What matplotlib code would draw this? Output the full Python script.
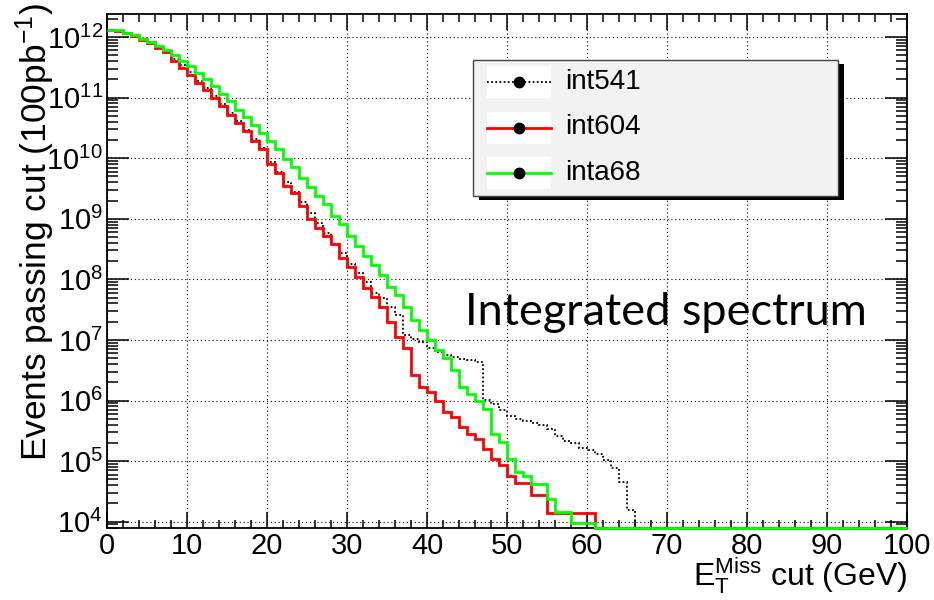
import numpy as np
import matplotlib
matplotlib.use('Agg')
import matplotlib.pyplot as plt
from matplotlib.patches import Rectangle
from matplotlib.lines import Line2D
from matplotlib.ticker import LogLocator, MultipleLocator, NullFormatter

plt.rcParams['font.family'] = ['Liberation Sans', 'DejaVu Sans']
plt.rcParams['mathtext.fontset'] = 'custom'
plt.rcParams['mathtext.rm'] = 'Liberation Sans'
plt.rcParams['mathtext.it'] = 'Liberation Sans:italic'
plt.rcParams['mathtext.bf'] = 'Liberation Sans:bold'

# 1 GeV bins from 0 to 100
bin_edges = np.arange(0, 101, 1)

# log10(events passing cut) per bin; bins after the list are empty
int541_log = [12.11, 12.10, 12.07, 12.03, 11.97, 11.91, 11.84, 11.77, 11.64, 11.53,
              11.42, 11.28, 11.16, 11.03, 10.89, 10.75, 10.61, 10.47, 10.31, 10.17,
              9.94, 9.77, 9.61, 9.44, 9.28, 9.09, 8.93, 8.76, 8.59, 8.43,
              8.26, 8.10, 7.96, 7.77, 7.69, 7.55, 7.41, 7.08, 7.02, 6.97,
              6.86, 6.80, 6.75, 6.72, 6.69, 6.67, 6.64, 6.01, 5.95, 5.84,
              5.75, 5.70, 5.66, 5.63, 5.59, 5.53, 5.42, 5.34, 5.30, 5.22,
              5.18, 5.11, 5.02, 4.89, 4.66, 4.20]
int604_log = [12.11, 12.10, 12.07, 12.02, 11.955, 11.90, 11.82, 11.75, 11.60, 11.49,
              11.38, 11.24, 11.13, 11.00, 10.86, 10.72, 10.58, 10.445, 10.29, 10.15,
              9.90, 9.76, 9.54, 9.43, 9.21, 8.99, 8.855, 8.72, 8.58, 8.36,
              8.21, 8.04, 7.86, 7.71, 7.55, 7.30, 7.05, 6.86, 6.42, 6.23,
              6.14, 6.00, 5.81, 5.72, 5.56, 5.45, 5.37, 5.20, 5.04, 4.93,
              4.76, 4.64, 4.64, 4.44, 4.44, 4.15, 4.15, 4.15, 4.15, 4.15,
              4.15]
inta68_log = [12.11, 12.11, 12.07, 12.03, 11.97, 11.92, 11.86, 11.79, 11.70, 11.61,
              11.52, 11.41, 11.31, 11.19, 11.06, 10.94, 10.80, 10.675, 10.54, 10.41,
              10.28, 10.15, 9.98, 9.85, 9.68, 9.52, 9.38, 9.24, 9.05, 8.91,
              8.72, 8.55, 8.39, 8.23, 8.07, 7.88, 7.74, 7.55, 7.33, 7.16,
              7.00, 6.83, 6.70, 6.51, 6.22, 6.10, 6.00, 5.86, 5.45, 5.31,
              5.04, 4.82, 4.76, 4.62, 4.62, 4.38, 4.16, 4.16, 3.98, 3.98,
              3.98]

series_names = ['int541', 'int604', 'inta68']
series_logs = [int541_log, int604_log, inta68_log]
colors = ['black', '#ff0000', '#00ff00']
styles = [(0, (1, 1.3)), '-', '-']
widths = [1.3, 2.0, 2.0]

y_min, y_max = 10 ** 3.891, 10 ** 12.38

W, H = 934, 600


def fx(x):
    return x / W


def fy(y):
    return 1 - y / H


def fill_bins(logs):
    vals = np.full(len(bin_edges) - 1, y_min)
    vals[:len(logs)] = 10 ** np.array(logs)
    return vals


fig = plt.figure(figsize=(9.34, 6), dpi=100)
ax = fig.add_axes([fx(107), fy(528.3), 800 / W, (528.3 - 14) / H])

for name, logs, c, ls, lw in zip(series_names, series_logs, colors, styles, widths):
    ax.stairs(fill_bins(logs), bin_edges, color=c, linestyle=ls, linewidth=lw,
              baseline=None, clip_on=False, zorder=3)

ax.set_yscale('log')
ax.set_xlim(0, 100)
ax.set_ylim(y_min, y_max)

ax.xaxis.set_major_locator(MultipleLocator(10))
ax.xaxis.set_minor_locator(MultipleLocator(2))
ax.yaxis.set_major_locator(LogLocator(base=10, numticks=20))
ax.yaxis.set_minor_locator(LogLocator(base=10, subs=np.arange(2, 10), numticks=20))
ax.yaxis.set_minor_formatter(NullFormatter())

ax.tick_params(which='both', direction='in', top=True, right=True, width=1.1,
               labelsize=21, colors='black')
ax.tick_params(axis='x', which='major', length=11.5, pad=3)
ax.tick_params(axis='x', which='minor', length=5.8)
ax.tick_params(axis='y', which='major', length=16, pad=3)
ax.tick_params(axis='y', which='minor', length=8)

ax.grid(True, which='major', color='black', linestyle=(0, (1, 2.5)), linewidth=0.8)
for s in ax.spines.values():
    s.set_linewidth(1.3)

fig.text(fx(35), fy(3), 'Events passing cut (100pb$^{-1}$)', rotation=90,
         ha='center', va='top', fontsize=25.5)
fig.text(fx(907), fy(586), r'$\mathrm{E}_{\mathrm{T}}^{\mathrm{Miss}}$ cut (GeV)',
         ha='right', va='baseline', fontsize=23)

fig.text(fx(465), fy(325), 'Integrated spectrum', family=['Lato', 'DejaVu Sans'],
         ha='left', va='baseline', fontsize=32.5)

# legend box in ROOT style
fig.add_artist(Rectangle((fx(479), fy(200)), (838 - 473) / W, (196 - 60) / H,
                         transform=fig.transFigure, facecolor='black', edgecolor='none', zorder=4))
fig.add_artist(Rectangle((fx(473), fy(196)), (838 - 473) / W, (196 - 60) / H,
                         transform=fig.transFigure, facecolor='#f2f2f2', edgecolor='#444444',
                         linewidth=1, zorder=5))
for k, (name, c, ls, lw) in enumerate(zip(series_names, colors, styles, widths)):
    yc = 82 + 45.5 * k
    fig.add_artist(Rectangle((fx(487), fy(yc + 16)), 64 / W, 32 / H, transform=fig.transFigure,
                             facecolor='white', edgecolor='none', zorder=6))
    fig.add_artist(Line2D([fx(487), fx(551)], [fy(yc), fy(yc)], transform=fig.transFigure,
                          color=c, linestyle=ls, linewidth=lw, zorder=7))
    fig.add_artist(Line2D([fx(519)], [fy(yc)], transform=fig.transFigure, marker='o',
                          markersize=7.5, color='black', zorder=8))
    fig.text(fx(565), fy(yc), name, ha='left', va='center', fontsize=20, zorder=9)

fig.savefig('out.png', dpi=100)
